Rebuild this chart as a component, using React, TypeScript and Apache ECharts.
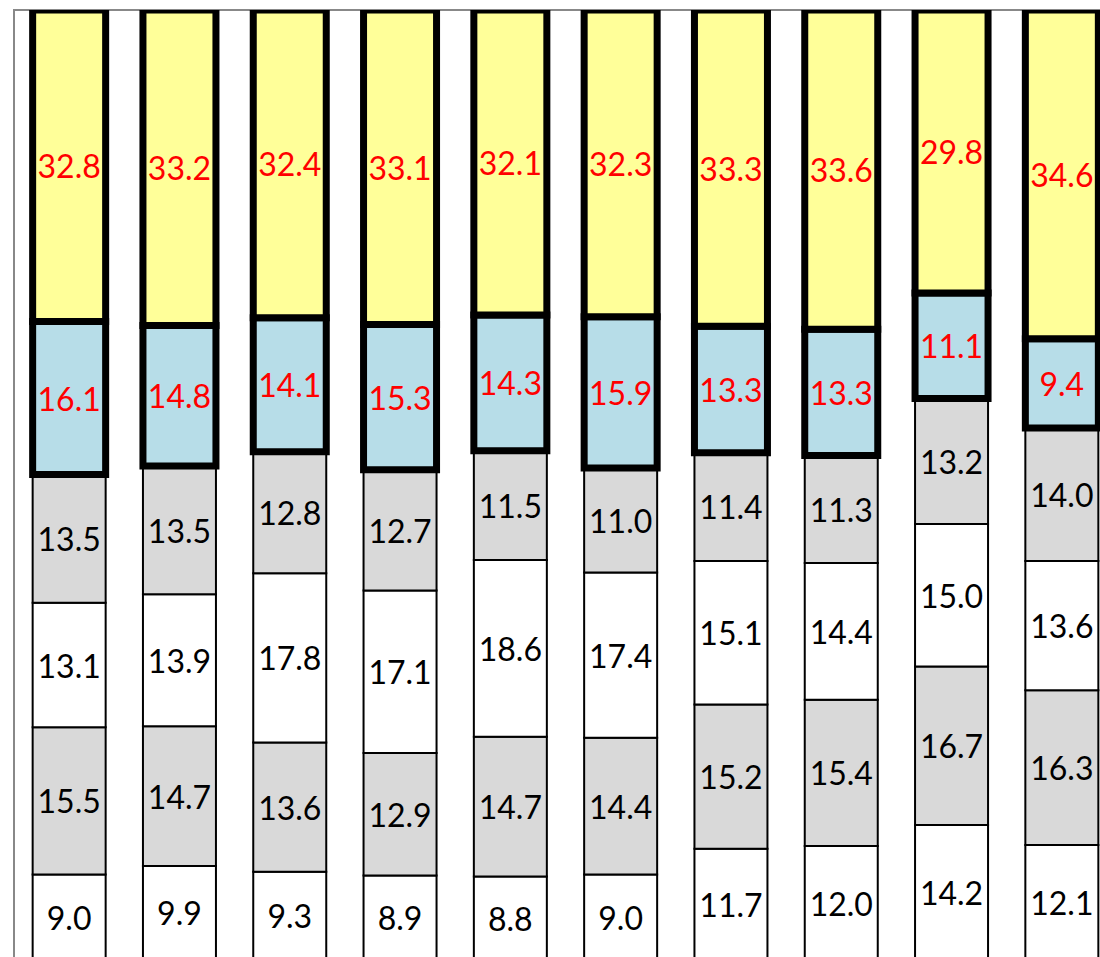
import React, { useEffect, useRef } from "react";
import * as echarts from "echarts";

const categories = ["1", "2", "3", "4", "5", "6", "7", "8", "9", "10"];
const seg1 = [9.0, 9.9, 9.3, 8.9, 8.8, 9.0, 11.7, 12.0, 14.2, 12.1];
const seg2 = [15.5, 14.7, 13.6, 12.9, 14.7, 14.4, 15.2, 15.4, 16.7, 16.3];
const seg3 = [13.1, 13.9, 17.8, 17.1, 18.6, 17.4, 15.1, 14.4, 15.0, 13.6];
const seg4 = [13.5, 13.5, 12.8, 12.7, 11.5, 11.0, 11.4, 11.3, 13.2, 14.0];
const seg5 = [16.1, 14.8, 14.1, 15.3, 14.3, 15.9, 13.3, 13.3, 11.1, 9.4];
const seg6 = [32.8, 33.2, 32.4, 33.1, 32.1, 32.3, 33.3, 33.6, 29.8, 34.6];

const FONT = "Lato";
const BAR_W = 73;

const segments = [seg1, seg2, seg3, seg4, seg5, seg6];
const fills = ["#FFFFFF", "#D9D9D9", "#FFFFFF", "#D9D9D9", "#B7DDE8", "#FFFF99"];
const lineWidths = [2, 2, 2, 2, 7, 7];
const labelColors = ["#000000", "#000000", "#000000", "#000000", "#FF0000", "#FF0000"];

function buildSeries() {
  const base = categories.map(() => 0);
  return segments.map((seg, k) => {
    const data = seg.map((v, i) => {
      const start = base[i];
      const end = start + v;
      base[i] = end;
      return [i, start, end, v];
    });
    return {
      name: "s" + (k + 1),
      type: "custom",
      clip: true,
      encode: { x: 0, y: [1, 2] },
      data,
      z: 2 + k,
      renderItem: (params: any, api: any) => {
        const x = api.value(0);
        const s = api.value(1);
        const e = api.value(2);
        const v = api.value(3);
        const p0 = api.coord([x, s]);
        const p1 = api.coord([x, e]);
        return {
          type: "rect",
          shape: { x: p0[0] - BAR_W / 2, y: p1[1], width: BAR_W, height: p0[1] - p1[1] },
          style: { fill: fills[k], stroke: "#000000", lineWidth: lineWidths[k] },
          textContent: {
            type: "text",
            style: {
              text: Number(v).toFixed(1),
              fill: labelColors[k],
              fontFamily: FONT,
              fontSize: 32,
            },
          },
          textConfig: { position: "inside" },
        };
      },
    };
  });
}

export default function App() {
  const ref = useRef<HTMLDivElement>(null);
  useEffect(() => {
    if (!ref.current) return;
    const chart = echarts.init(ref.current, undefined, { renderer: "svg" });
    chart.setOption({
      animation: false,
      backgroundColor: "#ffffff",
      grid: {
        left: 14,
        top: 10,
        width: 1103,
        height: 950,
        show: true,
        borderColor: "#888888",
        borderWidth: 2,
        backgroundColor: "transparent",
      },
      xAxis: {
        type: "category",
        data: categories,
        axisLine: { show: false },
        axisTick: { show: false },
        axisLabel: { show: false },
      },
      yAxis: {
        type: "value",
        min: 0,
        max: 100,
        axisLine: { show: false },
        axisTick: { show: false },
        axisLabel: { show: false },
        splitLine: { show: false },
      },
      series: buildSeries(),
    });
    return () => chart.dispose();
  }, []);
  return (
    <div style={{ position: "fixed", left: 0, top: 0, width: 1100, height: 957, overflow: "hidden", background: "#fff" }}>
      <div ref={ref} style={{ width: 1200, height: 1000 }} />
    </div>
  );
}
